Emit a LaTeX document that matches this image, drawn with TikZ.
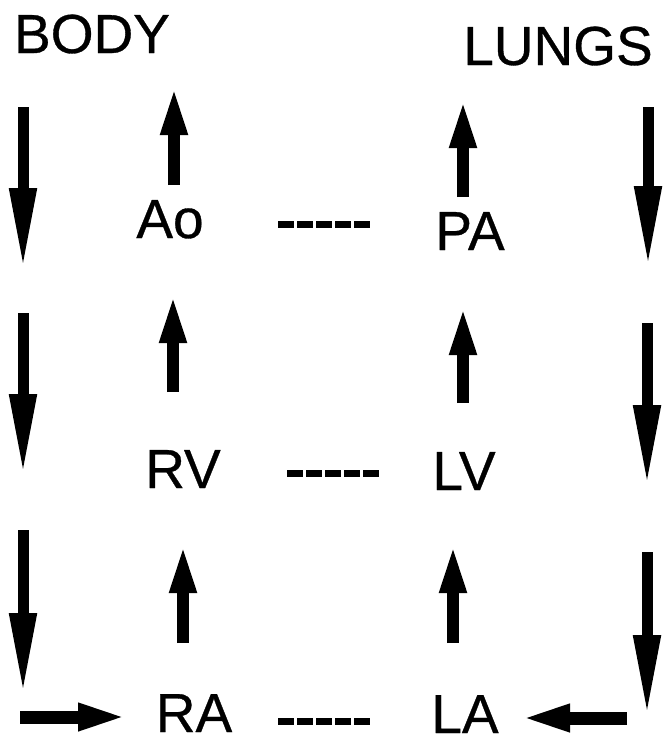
\documentclass[tikz,border=0pt]{standalone}
\usepackage{fontspec}
\setmainfont{Liberation Sans}
\newfontfamily\lblfont{Liberation Sans}[FakeBold=0.6]
\usetikzlibrary{arrows.meta}
\begin{document}
\begin{tikzpicture}[x=1pt,y=-1pt,
  lbl/.style={font=\lblfont\fontsize{55}{60}\selectfont, anchor=base, inner sep=0pt},
  flow/.style={line width=12pt, -{Triangle[length=50pt,width=24pt]}},
  longflow/.style={line width=11pt, -{Triangle[length=82pt,width=25pt]}},
  sideflow/.style={line width=13pt, -{Triangle[length=52pt,width=24pt]}},
  link/.style={line width=7pt, dash pattern=on 15.5pt off 3.5pt}]
\useasboundingbox (0,0) rectangle (662,745);
% labels
\node[lbl] (body)  at (92,53)  {BODY};
\node[lbl] (lungs) at (558,65) {LUNGS};
\node[lbl] (Ao) at (170,238) {Ao};
\node[lbl] (PA) at (470,250) {PA};
\node[lbl] (RV) at (183,488) {RV};
\node[lbl] (LV) at (464,490) {LV};
\node[lbl] (RA) at (194,732) {RA};
\node[lbl] (LA) at (465,733) {LA};
% left column (body -> RA)
\coordinate (l1s) at (23,107); \coordinate (l1e) at (23,270);
\coordinate (l2s) at (23,313); \coordinate (l2e) at (23,476);
\coordinate (l3s) at (23,530); \coordinate (l3e) at (23,695);
\draw[longflow] (l1s) -- (l1e);
\draw[longflow] (l2s) -- (l2e);
\draw[longflow] (l3s) -- (l3e);
% right column (lungs -> LA)
\coordinate (r1s) at (648,107); \coordinate (r1e) at (648,268);
\coordinate (r2s) at (647,323); \coordinate (r2e) at (647,487);
\coordinate (r3s) at (647,552); \coordinate (r3e) at (647,717);
\draw[longflow] (r1s) -- (r1e);
\draw[longflow] (r2s) -- (r2e);
\draw[longflow] (r3s) -- (r3e);
% bottom horizontal
\coordinate (hls) at (20,717); \coordinate (hle) at (130,717);
\coordinate (hrs) at (627,718); \coordinate (hre) at (518,718);
\draw[sideflow] (hls) -- (hle);
\draw[sideflow] (hrs) -- (hre);
% right heart column
\coordinate (a1s) at (174,185); \coordinate (a1e) at (174,85);
\coordinate (a2s) at (173,392); \coordinate (a2e) at (173,293);
\coordinate (a3s) at (183,643); \coordinate (a3e) at (183,543);
\draw[flow] (a1s) -- (a1e);
\draw[flow] (a2s) -- (a2e);
\draw[flow] (a3s) -- (a3e);
% left heart column
\coordinate (p1s) at (463,197); \coordinate (p1e) at (463,98);
\coordinate (p2s) at (463,403); \coordinate (p2e) at (463,305);
\coordinate (p3s) at (453,643); \coordinate (p3e) at (453,543);
\draw[flow] (p1s) -- (p1e);
\draw[flow] (p2s) -- (p2e);
\draw[flow] (p3s) -- (p3e);
% links
\coordinate (d1s) at (278,224); \coordinate (d1e) at (370,224);
\coordinate (d2s) at (287,473); \coordinate (d2e) at (379,473);
\coordinate (d3s) at (278,721); \coordinate (d3e) at (370,721);
\draw[link] (d1s) -- (d1e);
\draw[link] (d2s) -- (d2e);
\draw[link] (d3s) -- (d3e);
\end{tikzpicture}
\end{document}
